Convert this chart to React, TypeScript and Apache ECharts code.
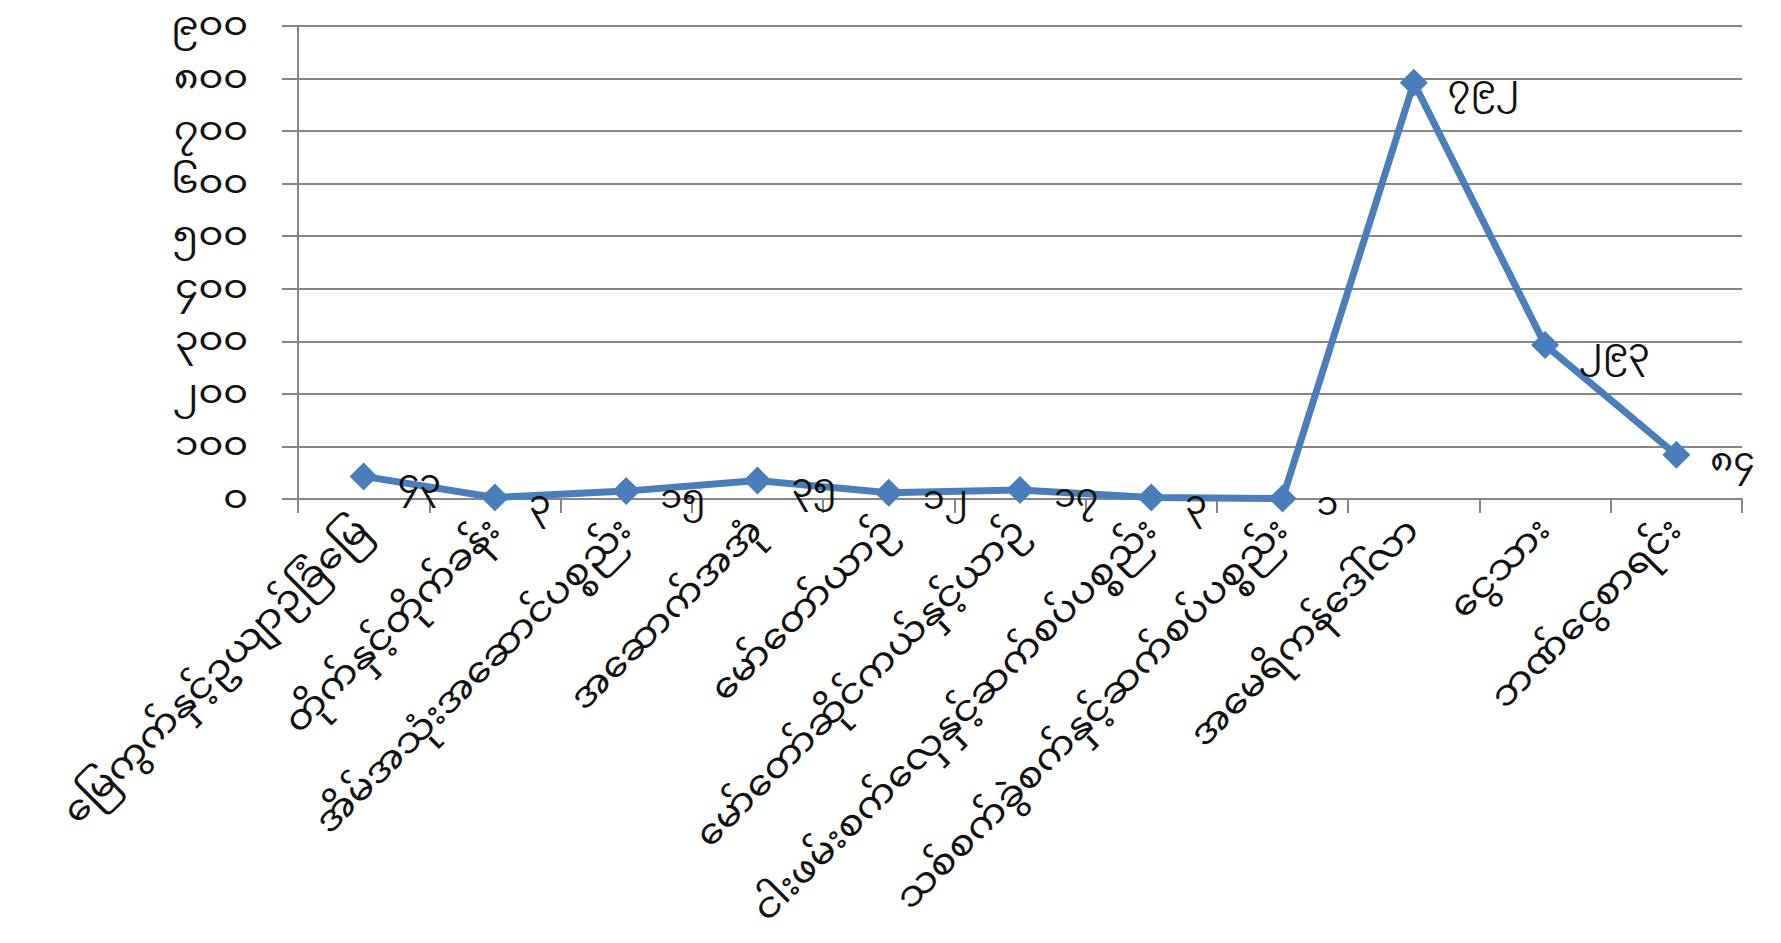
import React, { useEffect, useRef } from 'react';
import * as echarts from 'echarts';

// Asset categories (x axis)
const categories: string[] = [
  'မြေကွက်နှင့်ဥယျာဉ်ခြံမြေ',
  'တိုက်နှင့်တိုက်ခန်း',
  'အိမ်အသုံးအဆောင်ပစ္စည်း',
  'အဆောက်အအုံ',
  'မော်တော်ယာဉ်',
  'မော်တော်ဆိုင်ကယ်နှင့်ယာဉ်',
  'ငါးဖမ်းစက်လှေနှင့်ဆက်စပ်ပစ္စည်း',
  'သစ်စက်ခွဲစက်နှင့်ဆက်စပ်ပစ္စည်း',
  'အမေရိကန်ဒေါ်လာ',
  'ငွေသား',
  'ဘဏ်ငွေစာရင်း',
];

// Count per category
const values: number[] = [43, 3, 15, 35, 12, 17, 3, 1, 792, 293, 84];

// Value axis tick labels (0 … 900, step 100)
const yTickLabels: string[] = ['၀', '၁၀၀', '၂၀၀', '၃၀၀', '၄၀၀', '၅၀၀', '၆၀၀', '၇၀၀', '၈၀၀', '၉၀၀'];

const myanmarDigits: string[] = ['၀', '၁', '၂', '၃', '၄', '၅', '၆', '၇', '၈', '၉'];
const toMyanmar = (n: number): string =>
  String(n)
    .split('')
    .map((d) => myanmarDigits[Number(d)] ?? d)
    .join('');

const FONT = '"Noto Sans Myanmar UI", "Noto Sans Myanmar", "Padauk", "Myanmar Text", "Noto Sans", sans-serif';
const GRID_COLOR = '#868686';
const LINE_COLOR = '#4A7EBB';

export default function App() {
  const ref = useRef<HTMLDivElement>(null);

  useEffect(() => {
    if (!ref.current) return;
    const chart = echarts.init(ref.current, undefined, { renderer: 'svg' });
    chart.setOption({
      animation: false,
      backgroundColor: '#ffffff',
      grid: { left: 298, right: 39, top: 26, bottom: 444, outerBoundsMode: 'none' },
      xAxis: {
        type: 'category',
        data: categories,
        boundaryGap: true,
        axisLine: { show: true, lineStyle: { color: GRID_COLOR, width: 2 } },
        axisTick: { show: true, length: 14, lineStyle: { color: GRID_COLOR, width: 2 } },
        axisLabel: {
          interval: 0,
          rotate: 45,
          margin: 26,
          fontSize: 39,
          lineHeight: 38,
          color: '#111111',
          fontFamily: FONT,
        },
        splitLine: { show: false },
      },
      yAxis: {
        type: 'value',
        min: 0,
        max: 900,
        interval: 100,
        axisLine: { show: true, lineStyle: { color: GRID_COLOR, width: 2 } },
        axisTick: { show: true, length: 16, lineStyle: { color: GRID_COLOR, width: 2 } },
        splitLine: { show: true, lineStyle: { color: GRID_COLOR, width: 2 } },
        axisLabel: {
          margin: 50,
          fontSize: 38,
          lineHeight: 30,
          color: '#111111',
          fontFamily: FONT,
          formatter: (v: number) => yTickLabels[Math.round(v / 100)] ?? '',
        },
      },
      series: [
        {
          type: 'line',
          data: values,
          symbol: 'diamond',
          symbolSize: 28,
          lineStyle: { color: LINE_COLOR, width: 7 },
          itemStyle: { color: LINE_COLOR },
          label: {
            show: true,
            position: 'right',
            distance: 20,
            offset: [0, 8],
            fontSize: 35,
            lineHeight: 36,
            color: '#111111',
            fontFamily: FONT,
            formatter: (p: any) => toMyanmar(p.value),
          },
        },
      ],
    });
    return () => chart.dispose();
  }, []);

  return (
    <div
      ref={ref}
      style={{ position: 'absolute', left: 0, top: 0, width: 1781, height: 943, background: '#fff' }}
    />
  );
}
